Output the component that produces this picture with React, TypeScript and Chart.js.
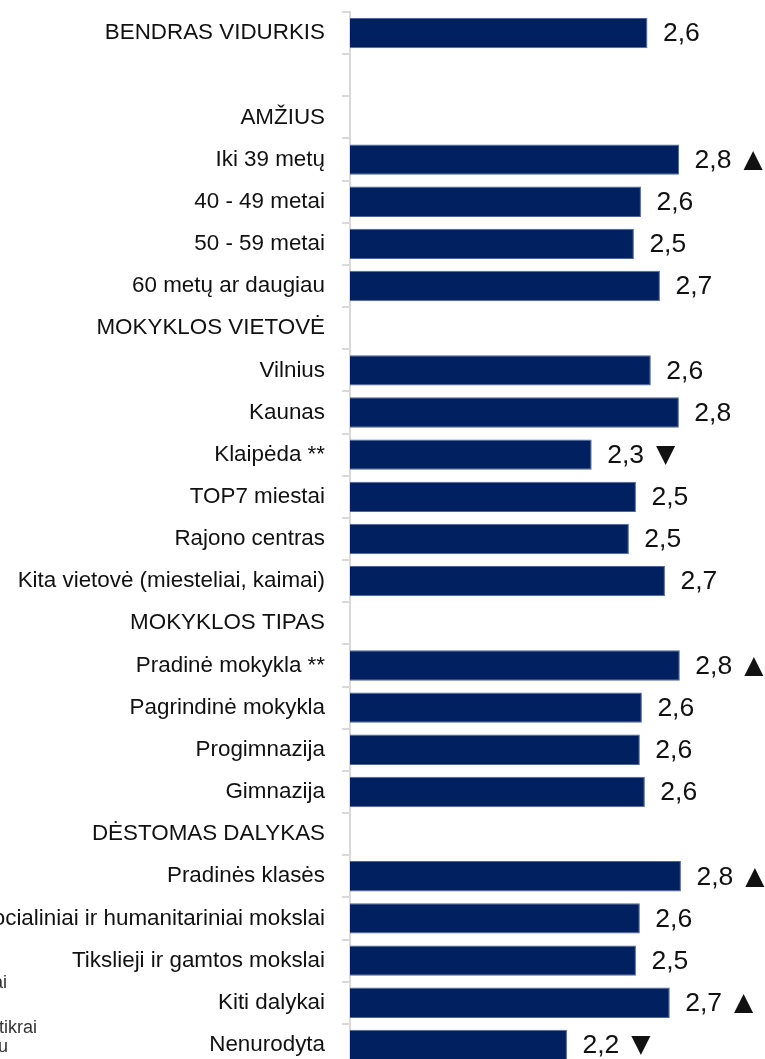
import React, { useEffect, useRef } from "react";
import { Chart, registerables } from "chart.js";

Chart.register(...registerables);

const categories: string[] = [
  "BENDRAS VIDURKIS",
  "",
  "AMŽIUS",
  "Iki 39 metų",
  "40 - 49 metai",
  "50 - 59 metai",
  "60 metų ar daugiau",
  "MOKYKLOS VIETOVĖ",
  "Vilnius",
  "Kaunas",
  "Klaipėda **",
  "TOP7 miestai",
  "Rajono centras",
  "Kita vietovė (miesteliai, kaimai)",
  "MOKYKLOS TIPAS",
  "Pradinė mokykla **",
  "Pagrindinė mokykla",
  "Progimnazija",
  "Gimnazija",
  "DĖSTOMAS DALYKAS",
  "Pradinės klasės",
  "Socialiniai ir humanitariniai mokslai",
  "Tikslieji ir gamtos mokslai",
  "Kiti dalykai",
  "Nenurodyta",
];

const values: (number | null)[] = [
  2.6, null, null, 2.77, 2.565, 2.527, 2.667, null, 2.618, 2.769, 2.3, 2.538,
  2.5, 2.694, null, 2.774, 2.57, 2.559, 2.586, null, 2.78, 2.559, 2.538, 2.72,
  2.167,
];

const trends: string[] = [
  "", "", "", "up", "", "", "", "", "", "", "down", "", "", "", "", "up", "",
  "", "", "", "up", "", "", "up", "down",
];

const noteFragments: string[] = ["ai", "tikrai", "u"];

const AXIS_MIN = 1;
const AXIS_MAX = 3.2;

const FONT = "'Liberation Sans', Arial, Helvetica, sans-serif";

export default function App() {
  const ref = useRef<HTMLCanvasElement | null>(null);

  useEffect(() => {
    if (!ref.current) return;
    const valueLabels = {
      id: "valueLabels",
      afterDatasetsDraw(chart: any) {
        const ctx = chart.ctx;
        const meta = chart.getDatasetMeta(0);
        ctx.save();
        ctx.fillStyle = "#111";
        ctx.textBaseline = "middle";
        ctx.textAlign = "left";
        meta.data.forEach((el: any, i: number) => {
          const v = values[i];
          if (v == null) return;
          const txt = v.toFixed(1).replace(".", ",");
          ctx.font = `26.5px ${FONT}`;
          const x = el.x + 15.5;
          const y = el.y + 1;
          ctx.fillText(txt, x, y);
          const w = ctx.measureText(txt).width;
          const t = trends[i];
          if (t) {
            ctx.font = `25px 'DejaVu Sans', sans-serif`;
            ctx.fillText(t === "up" ? "▲" : "▼", x + w + 12, y);
          }
        });
        // cut-off note text at the bottom-left edge
        ctx.font = `18px ${FONT}`;
        ctx.fillStyle = "#333";
        ctx.textAlign = "right";
        ctx.textBaseline = "alphabetic";
        ctx.fillText(noteFragments[0], 7, 988);
        ctx.fillText(noteFragments[1], 37, 1033);
        ctx.fillText(noteFragments[2], 8, 1052);
        ctx.restore();
      },
    };

    const chart = new Chart(ref.current, {
      type: "bar",
      data: {
        labels: categories,
        datasets: [
          {
            data: values as any,
            backgroundColor: "#002060",
            borderColor: "#4d669a",
            borderWidth: 1,
            borderSkipped: "start",
            barPercentage: 0.72,
            categoryPercentage: 1,
          },
        ],
      },
      options: {
        indexAxis: "y",
        responsive: false,
        animation: false,
        layout: { padding: { top: 12, bottom: 14, left: 0, right: 6 } },
        plugins: {
          legend: { display: false },
          tooltip: { enabled: false },
        },
        scales: {
          x: {
            display: false,
            min: AXIS_MIN,
            max: AXIS_MAX,
          },
          y: {
            afterFit: (scale: any) => {
              scale.width = 350;
              scale.paddingTop = 0;
              scale.paddingBottom = 0;
            },
            grid: {
              display: true,
              drawOnChartArea: false,
              drawTicks: true,
              tickLength: 8,
              color: "#d9d9d9",
              lineWidth: 2,
              offset: true,
            },
            border: { display: true, color: "#d9d9d9", width: 2 },
            ticks: {
              color: "#111",
              padding: 17,
              autoSkip: false,
              font: { family: FONT, size: 22.4 },
            },
          },
        },
      },
      plugins: [valueLabels],
    });
    return () => chart.destroy();
  }, []);

  return (
    <div
      style={{
        position: "fixed",
        left: 0,
        top: 0,
        width: 765,
        height: 1080,
        background: "#fff",
      }}
    >
      <canvas ref={ref} width={765} height={1080} />
    </div>
  );
}
